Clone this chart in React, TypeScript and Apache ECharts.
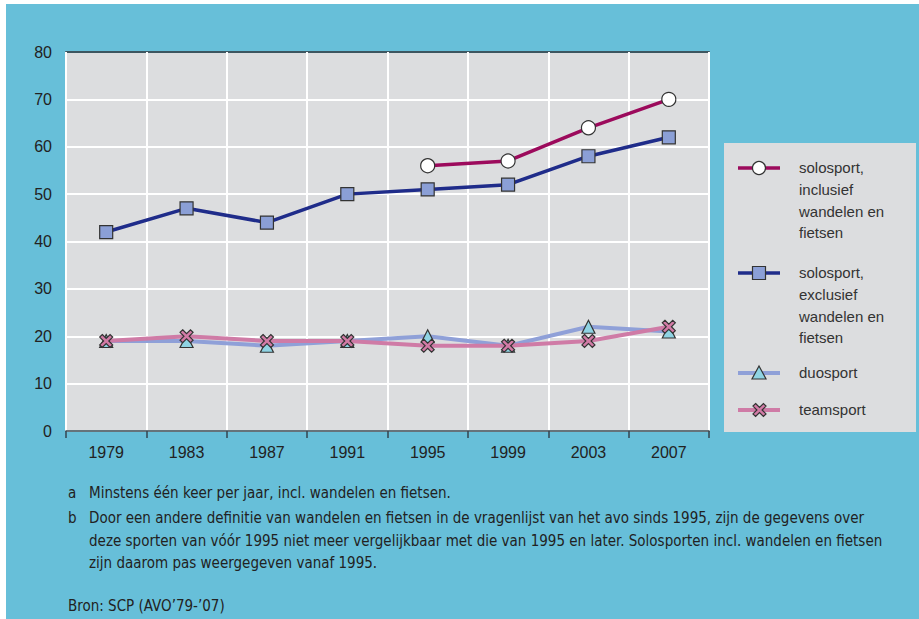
import React, { useEffect, useRef } from "react";
import * as echarts from "echarts";

const years = ["1979", "1983", "1987", "1991", "1995", "1999", "2003", "2007"];
const soloIncl = [null, null, null, null, 56, 57, 64, 70];
const soloExcl = [42, 47, 44, 50, 51, 52, 58, 62];
const duo = [19, 19, 18, 19, 20, 18, 22, 21];
const team = [19, 20, 19, 19, 18, 18, 19, 22];
const seriesNames = [
  "solosport, inclusief wandelen en fietsen",
  "solosport, exclusief wandelen en fietsen",
  "duosport",
  "teamsport",
];
const legendLines = [
  ["solosport,", "inclusief", "wandelen en", "fietsen"],
  ["solosport,", "exclusief", "wandelen en", "fietsen"],
  ["duosport"],
  ["teamsport"],
];
const footA = "Minstens één keer per jaar, incl. wandelen en fietsen.";
const footB = [
  "Door een andere definitie van wandelen en fietsen in de vragenlijst van het avo sinds 1995, zijn de gegevens over",
  "deze sporten van vóór 1995 niet meer vergelijkbaar met die van 1995 en later. Solosporten incl. wandelen en fietsen",
  "zijn daarom pas weergegeven vanaf 1995.",
];
const source = "Bron: SCP (AVO’79-’07)";

const BLUE = "#67bfd9";
const PLOT = "#dcdddf";
const C_INCL = "#9c0a5c";
const C_EXCL = "#1f2c8a";
const C_DUO = "#8fa0d8";
const C_TEAM = "#cf7ba6";
const CROSS = "path://M2,0 L5,3 L8,0 L10,2 L7,5 L10,8 L8,10 L5,7 L2,10 L0,8 L3,5 L0,2 Z";
const FONT = "'Liberation Sans', Arial, sans-serif";
const NARROW = "'Liberation Sans Narrow', 'DejaVu Sans Condensed', sans-serif";

export default function App() {
  const ref = useRef<HTMLDivElement>(null);
  useEffect(() => {
    if (!ref.current) return;
    const chart = echarts.init(ref.current, null, { renderer: "svg" });

    const legendY = [168, 273, 373, 410];
    const markers: any[] = [
      { type: "circle", shape: { cx: 759, cy: legendY[0], r: 6.5 }, style: { fill: "#fff", stroke: "#333", lineWidth: 1.2 } },
      { type: "rect", shape: { x: 752.5, y: legendY[1] - 6.5, width: 13, height: 13 }, style: { fill: "#8b9fd6", stroke: "#333", lineWidth: 1.2 } },
      { type: "polygon", shape: { points: [[759, legendY[2] - 7], [752, legendY[2] + 6], [766, legendY[2] + 6]] }, style: { fill: "#8fd3e3", stroke: "#333", lineWidth: 1.2 } },
    ];
    const lineColors = [C_INCL, C_EXCL, C_DUO, C_TEAM];
    const legendGraphics: any[] = [
      { type: "rect", shape: { x: 724, y: 143, width: 192, height: 289 }, style: { fill: PLOT }, z: 1 },
    ];
    legendY.forEach((y, i) => {
      legendGraphics.push({ type: "line", shape: { x1: 738, y1: y, x2: 780, y2: y }, style: { stroke: lineColors[i], lineWidth: i < 2 ? 3.5 : 4 }, z: 2 });
      legendGraphics.push({
        type: "text", x: 799, y: y - 11, z: 2,
        style: { text: legendLines[i].join("\n"), font: `15px ${FONT}`, fill: "#333", lineHeight: 21.7, verticalAlign: "top" },
      });
    });
    markers.forEach((m) => legendGraphics.push({ ...m, z: 3 }));
    // cross marker for teamsport legend
    legendGraphics.push({
      type: "polygon", z: 3,
      shape: { points: [[2, 0], [5, 3], [8, 0], [10, 2], [7, 5], [10, 8], [8, 10], [5, 7], [2, 10], [0, 8], [3, 5], [0, 2]].map(([px, py]) => [753 + px * 1.3, legendY[3] - 6.5 + py * 1.3]) },
      style: { fill: "#d27ba6", stroke: "#333", lineWidth: 1.2 },
    });

    const footFont = `15px ${NARROW}`;
    const footGraphics: any[] = [
      { type: "text", x: 68, y: 493, style: { text: "a", font: footFont, fill: "#222", verticalAlign: "middle" } },
      { type: "text", x: 89, y: 493, style: { text: footA, font: footFont, fill: "#222", verticalAlign: "middle" } },
      { type: "text", x: 68, y: 518, style: { text: "b", font: footFont, fill: "#222", verticalAlign: "middle" } },
      { type: "text", x: 89, y: 518, style: { text: footB[0], font: footFont, fill: "#222", verticalAlign: "middle" } },
      { type: "text", x: 89, y: 541, style: { text: footB[1], font: footFont, fill: "#222", verticalAlign: "middle" } },
      { type: "text", x: 89, y: 563, style: { text: footB[2], font: footFont, fill: "#222", verticalAlign: "middle" } },
      { type: "text", x: 68, y: 606, style: { text: source, font: footFont, fill: "#222", verticalAlign: "middle" } },
    ];

    chart.setOption({
      animation: false,
      backgroundColor: "#ffffff",
      graphic: [
        { type: "rect", shape: { x: 6, y: 4, width: 913, height: 615 }, style: { fill: BLUE }, z: -10, silent: true },
        { type: "rect", shape: { x: 66, y: 52, width: 643, height: 379 }, style: { fill: PLOT }, z: -9, silent: true },
        ...legendGraphics,
        ...footGraphics,
      ],
      grid: { left: 66, top: 52, right: 210, bottom: 188, containLabel: false },
      xAxis: [
        {
          type: "category",
          data: years,
          boundaryGap: true,
          axisLine: { show: true, lineStyle: { color: "#33454f", width: 1.5 } },
          axisTick: { show: true, length: 7, lineStyle: { color: "#33454f", width: 1.5 } },
          axisLabel: { color: "#222", fontSize: 16, fontFamily: FONT, margin: 13 },
          splitLine: { show: true, lineStyle: { color: "#ffffff", width: 2 } },
          z: 3,
        },
        {
          type: "category",
          data: years,
          position: "top",
          axisLine: { show: true, lineStyle: { color: "#3d5660", width: 2 } },
          axisTick: { show: false },
          axisLabel: { show: false },
          splitLine: { show: false },
        },
      ],
      yAxis: {
        type: "value",
        min: 0,
        max: 80,
        interval: 10,
        axisLine: { show: false },
        axisTick: { show: false },
        axisLabel: { color: "#222", fontSize: 16, fontFamily: FONT, margin: 14 },
        splitLine: { show: true, lineStyle: { color: "#ffffff", width: 2 } },
      },
      series: [
        {
          name: seriesNames[2], type: "line", data: duo,
          lineStyle: { color: C_DUO, width: 4 }, itemStyle: { color: "#8fd3e3", borderColor: "#333", borderWidth: 1.2 },
          symbol: "triangle", symbolSize: [13, 13], z: 4,
        },
        {
          name: seriesNames[3], type: "line", data: team,
          lineStyle: { color: C_TEAM, width: 4 }, itemStyle: { color: "#d27ba6", borderColor: "#333", borderWidth: 1.2 },
          symbol: CROSS, symbolSize: 13, z: 5,
        },
        {
          name: seriesNames[1], type: "line", data: soloExcl,
          lineStyle: { color: C_EXCL, width: 3.5 }, itemStyle: { color: "#8b9fd6", borderColor: "#333", borderWidth: 1.2 },
          symbol: "rect", symbolSize: 13, z: 6,
        },
        {
          name: seriesNames[0], type: "line", data: soloIncl,
          lineStyle: { color: C_INCL, width: 3.5 }, itemStyle: { color: "#ffffff", borderColor: "#333", borderWidth: 1.2 },
          symbol: "circle", symbolSize: 14, z: 7,
        },
      ],
    });
    return () => chart.dispose();
  }, []);
  return <div ref={ref} style={{ position: "fixed", left: 0, top: 0, width: 919, height: 619 }} />;
}
